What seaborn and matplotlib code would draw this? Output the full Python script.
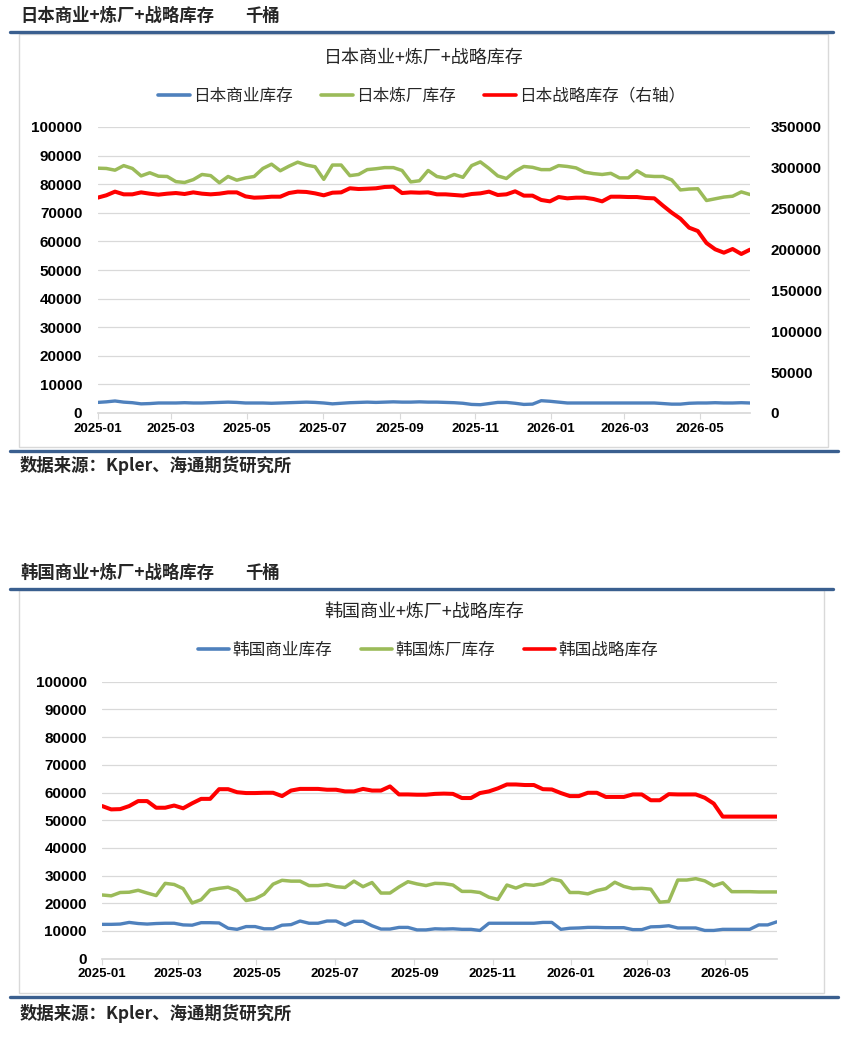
import numpy as np
import pandas as pd
import seaborn as sns
import matplotlib.pyplot as plt
import matplotlib.dates as mdates
from matplotlib.lines import Line2D
from matplotlib.patches import Rectangle
from matplotlib.font_manager import FontProperties

# weekly data, thousand barrels
dates = pd.date_range('2025-01-01', periods=76, freq='7D')

jp_commercial = [3700, 3900, 4200, 3800, 3600, 3200, 3300, 3500, 3500, 3500,
                 3600, 3500, 3500, 3600, 3700, 3800, 3700, 3500, 3500, 3500,
                 3400, 3500, 3600, 3700, 3800, 3700, 3500, 3200, 3400, 3600,
                 3700, 3800, 3700, 3800, 3900, 3800, 3800, 3900, 3800, 3800,
                 3700, 3600, 3400, 3000, 2900, 3300, 3700, 3700, 3400, 3000,
                 3100, 4300, 4100, 3800, 3500, 3500, 3500, 3500, 3500, 3500,
                 3500, 3500, 3500, 3500, 3500, 3300, 3100, 3100, 3400, 3500,
                 3500, 3600, 3500, 3500, 3600, 3500]
jp_refinery = [85600, 85500, 84900, 86500, 85500, 82900, 84000, 82800, 82700, 80900,
               80600, 81600, 83400, 83000, 80500, 82700, 81400, 82200, 82700, 85500,
               87000, 84700, 86300, 87700, 86700, 86100, 81700, 86700, 86700, 83000,
               83400, 85100, 85400, 85800, 85800, 84800, 80800, 81200,
               84800, 82700, 82100, 83400, 82400, 86500, 87800, 85500, 82900, 82000,
               84500, 86200, 85900, 85100, 85100, 86500, 86200, 85700, 84200, 83700,
               83400, 83800, 82200, 82200, 84700, 82900, 82700, 82700, 81500, 78000,
               78300, 78400, 74300, 74900, 75500, 75800, 77300, 76400]
jp_strategic = [263500, 266400, 270900, 267600, 267600, 270000, 268400, 267200, 268400, 269200,
                268000, 270000, 268400, 267600, 268400, 270000, 270000, 265100, 263500, 263900,
                264700, 264700, 269200, 270900, 270500, 268800, 266400, 269600, 270000, 275000,
                274100, 274500, 275000, 276600, 277000, 269200, 270000, 269600,
                270000, 267600, 267600, 266800, 266000, 268000, 268800, 270900, 266800, 267600,
                271300, 266000, 266000, 260700, 259000, 264300, 262700, 263500, 263500, 261900,
                259000, 264700, 264700, 264300, 264300, 263100, 262700, 253700, 245200, 237800,
                226800, 222700, 208000, 200300, 196200, 200700, 194600, 199900]

kr_commercial = [12400, 12400, 12500, 13100, 12700, 12500, 12700, 12800, 12800, 12200,
                 12100, 13000, 13000, 12900, 11000, 10600, 11600, 11600, 10800, 10800,
                 12100, 12300, 13600, 12800, 12800, 13600, 13600, 12100, 13500, 13500,
                 11900, 10700, 10700, 11300, 11300, 10400, 10400, 10800,
                 10700, 10800, 10600, 10600, 10200, 12800, 12800, 12800, 12800, 12800,
                 12800, 13100, 13100, 10600, 11000, 11100, 11300, 11300, 11200, 11200,
                 11200, 10500, 10500, 11500, 11600, 11900, 11100, 11100, 11100, 10200,
                 10200, 10600, 10600, 10600, 10600, 12200, 12200, 13300]
kr_refinery = [23000, 22700, 23900, 24000, 24700, 23700, 22800, 27200, 26800, 25300,
               20100, 21300, 24800, 25400, 25800, 24500, 21000, 21600, 23300, 26900,
               28300, 28000, 28000, 26400, 26400, 26800, 26000, 25700, 28000, 26000,
               27500, 23700, 23700, 25900, 27800, 27000, 26400, 27200,
               27100, 26600, 24300, 24300, 23900, 22200, 21400, 26600, 25500, 26800,
               26500, 27100, 28800, 28100, 23900, 23900, 23400, 24600, 25300, 27600,
               26100, 25300, 25400, 25100, 20400, 20700, 28400, 28400, 28900, 28100,
               26300, 27400, 24200, 24200, 24200, 24100, 24100, 24100]
kr_strategic = [55100, 53900, 54000, 55100, 56900, 56900, 54500, 54500, 55300, 54300,
                56100, 57700, 57700, 61200, 61200, 60100, 59800, 59800, 59900, 59900,
                58700, 60700, 61300, 61300, 61300, 61000, 61000, 60400, 60400, 61300,
                60700, 60700, 62200, 59300, 59300, 59200, 59200, 59500,
                59600, 59500, 58000, 58000, 59800, 60400, 61500, 62900, 62900, 62700,
                62700, 61200, 61100, 59800, 58700, 58700, 59900, 59900, 58400, 58400,
                58400, 59300, 59300, 57200, 57200, 59400, 59300, 59300, 59300, 58100,
                56000, 51300, 51300, 51300, 51300, 51300, 51300, 51300]

W, H = 863, 1051
BLUE = '#4F81BD'
GREEN = '#9BBB59'
RED = '#FF0000'
BAR = '#3A5F8F'
GRID = '#D9D9D9'
CJK = ['Noto Sans CJK SC', 'DejaVu Sans']

sns.set_theme(style='white')
plt.rcParams['font.family'] = ['Liberation Sans', 'DejaVu Sans']
plt.rcParams['font.weight'] = 'bold'

fig = plt.figure(figsize=(W / 100, H / 100), dpi=100)


def fx(x):
    return x / W


def fy(y):
    return 1 - y / H


def bar(x0, x1, y):
    fig.add_artist(Line2D([fx(x0), fx(x1)], [fy(y), fy(y)], color=BAR, lw=2.4))


def style_axis(ax, ymax, step):
    ax.set_ylim(0, ymax)
    ax.set_yticks(np.arange(0, ymax + 1, step))
    ax.tick_params(axis='y', length=0, pad=11, labelsize=11, labelcolor='black')
    for s in ax.spines.values():
        s.set_visible(False)


def draw_panel(head_y, box, plot, title_y, legend_y, legend_x, foot_y,
               head, title, left_series, right_series=None):
    bar(10, 833, head_y + 16)
    fig.text(fx(20), fy(head_y), head, family=CJK, fontsize=12.5,
             fontweight='bold', ha='left', va='center')
    fig.text(fx(245), fy(head_y), '千桶', family=CJK, fontsize=12.5,
             fontweight='bold', ha='left', va='center')
    l, t, r, b = box
    fig.add_artist(Rectangle((fx(l), fy(b)), fx(r) - fx(l), fy(t) - fy(b),
                             fill=False, edgecolor=GRID, lw=1))
    fig.text(fx(424), fy(title_y), title, family=CJK, fontsize=13,
             fontweight='normal', color='#262626', ha='center', va='center')

    pl, pt, pr, pb = plot
    ax = fig.add_axes([fx(pl), fy(pb), fx(pr) - fx(pl), fy(pt) - fy(pb)])
    handles = []
    for name, vals, color, lw in left_series:
        sns.lineplot(x=dates, y=vals, ax=ax, color=color, linewidth=lw)
        handles.append((Line2D([], [], color=color, lw=2.6), name))
    style_axis(ax, 100000, 10000)
    ax.yaxis.grid(True, color=GRID, lw=0.9)
    ax.xaxis.grid(False)
    ax.spines['bottom'].set_visible(True)
    ax.spines['bottom'].set_color(GRID)
    ax.set_xlim(dates[0], dates[-1])
    ax.xaxis.set_major_locator(mdates.MonthLocator(bymonth=[1, 3, 5, 7, 9, 11]))
    ax.xaxis.set_major_formatter(mdates.DateFormatter('%Y-%m'))
    ax.tick_params(axis='x', length=4, width=0.8, color=GRID, pad=3,
                   labelsize=9.5, labelcolor='black', bottom=True)
    ax.set_xlabel('')
    ax.set_ylabel('')

    if right_series is not None:
        ax2 = ax.twinx()
        name, vals, color, lw = right_series
        sns.lineplot(x=dates, y=vals, ax=ax2, color=color, linewidth=lw)
        handles.append((Line2D([], [], color=color, lw=2.6), name))
        style_axis(ax2, 350000, 50000)
        ax2.tick_params(axis='y', pad=15)
        ax2.set_ylabel('')
        ax2.set_xlim(dates[0], dates[-1])

    fig.legend([h for h, _ in handles], [n for _, n in handles], loc='center',
               bbox_to_anchor=(fx(legend_x), fy(legend_y)), ncol=3, frameon=False,
               prop=FontProperties(family=CJK, size=12, weight='normal'),
               labelcolor='#262626',
               handlelength=1.9, handletextpad=0.2, columnspacing=1.7)

    bar(10, 838, box[3] + 4)
    fig.text(fx(20), fy(foot_y), '数据来源：Kpler、海通期货研究所', family=CJK,
             fontsize=12.5, fontweight='bold', ha='left', va='center')


draw_panel(16, (19, 34, 828, 447), (97.6, 127, 750, 413), 58, 96, 422, 465,
           '日本商业+炼厂+战略库存', '日本商业+炼厂+战略库存',
           [('日本商业库存', jp_commercial, BLUE, 2.4),
            ('日本炼厂库存', jp_refinery, GREEN, 2.5)],
           ('日本战略库存（右轴）', jp_strategic, RED, 2.9))

draw_panel(573, (19, 590, 824, 993), (102.2, 681.7, 776.7, 958.7), 612, 650, 428, 1013,
           '韩国商业+炼厂+战略库存', '韩国商业+炼厂+战略库存',
           [('韩国商业库存', kr_commercial, BLUE, 2.4),
            ('韩国炼厂库存', kr_refinery, GREEN, 2.5),
            ('韩国战略库存', kr_strategic, RED, 2.9)])

fig.savefig('out.png', dpi=100)
